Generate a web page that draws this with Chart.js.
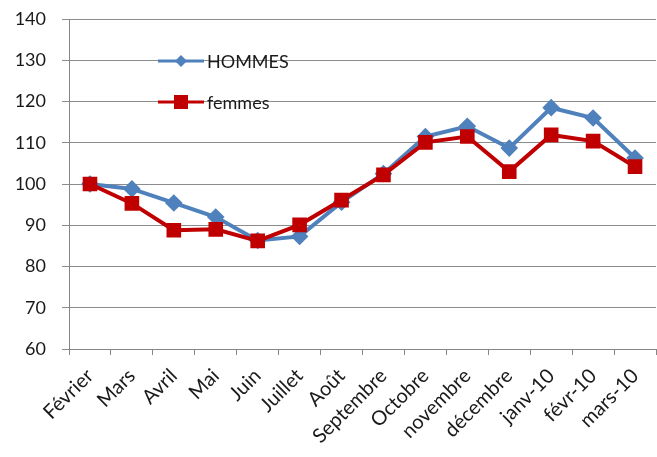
<!DOCTYPE html>
<html>
<head>
<meta charset="utf-8">
<script src="https://cdn.jsdelivr.net/npm/chart.js@4"></script>
<style>
html,body{margin:0;padding:0;background:#fff;}
#wrap{width:657px;height:457px;}
</style>
</head>
<body>
<div id="wrap"><canvas id="c" width="657" height="457"></canvas></div>
<script>
const categories = ["Février","Mars","Avril","Mai","Juin","Juillet","Août","Septembre","Octobre","novembre","décembre","janv-10","févr-10","mars-10"];
const hommes = [100, 98.8, 95.4, 92, 86.3, 87.3, 95.6, 102.5, 111.5, 114, 108.7, 118.5, 116, 106.3];
const femmes = [100, 95.3, 88.8, 89, 86.2, 90.1, 96.1, 102.2, 110.1, 111.5, 103, 111.9, 110.4, 104.2];
const yTicks = [60, 70, 80, 90, 100, 110, 120, 130, 140];

const BLUE = "#4f81bd", RED = "#c00000";
const FONT = "Lato, 'Liberation Sans', sans-serif";

const legendPlugin = {
  id: "inLegend",
  afterDatasetsDraw(chart) {
    const ctx = chart.ctx;
    const items = [
      {label: "HOMMES", color: BLUE, style: "rectRot", r: 6, y: 61},
      {label: "femmes", color: RED, style: "rect", r: 7, y: 102}
    ];
    ctx.save();
    items.forEach(it => {
      ctx.strokeStyle = it.color;
      ctx.lineWidth = 3;
      ctx.beginPath();
      ctx.moveTo(158, it.y);
      ctx.lineTo(204, it.y);
      ctx.stroke();
      ctx.fillStyle = it.color;
      if (it.style === "rect") {
        ctx.fillRect(181 - it.r, it.y - it.r, it.r * 2, it.r * 2);
      } else {
        ctx.beginPath();
        ctx.moveTo(181, it.y - it.r);
        ctx.lineTo(181 + it.r, it.y);
        ctx.lineTo(181, it.y + it.r);
        ctx.lineTo(181 - it.r, it.y);
        ctx.closePath();
        ctx.fill();
      }
      ctx.fillStyle = "#1a1a1a";
      ctx.font = "18px " + FONT;
      ctx.textBaseline = "middle";
      ctx.textAlign = "left";
      ctx.fillText(it.label, 207, it.y + 1);
    });
    ctx.restore();
  }
};

new Chart(document.getElementById("c"), {
  type: "line",
  data: {
    labels: categories,
    datasets: [
      {label: "HOMMES", data: hommes, borderColor: BLUE, backgroundColor: BLUE, borderWidth: 4, order: 1,
       pointStyle: "rectRot", pointRadius: 6, pointHoverRadius: 6, tension: 0},
      {label: "femmes", data: femmes, borderColor: RED, backgroundColor: RED, borderWidth: 4, order: 0,
       pointStyle: "rect", pointRadius: 7.5, pointHoverRadius: 7.5, tension: 0}
    ]
  },
  options: {
    responsive: false,
    animation: false,
    devicePixelRatio: 1,
    layout: {autoPadding: false, padding: {top: 19, right: 1, left: 0, bottom: 0}},
    plugins: {legend: {display: false}, tooltip: {enabled: false}},
    scales: {
      x: {
        offset: true,
        grid: {display: true, drawOnChartArea: false, drawTicks: true, tickLength: 6, color: "#868686", offset: true},
        border: {display: true, color: "#868686", width: 1},
        ticks: {minRotation: 45, maxRotation: 45, color: "#1a1a1a", font: {family: FONT, size: 20}, padding: 9, autoSkip: false},
        afterFit(s) { s.height = 108; s.paddingLeft = 0; s.paddingRight = 0; }
      },
      y: {
        min: 60, max: 140,
        afterBuildTicks(s) { s.ticks = yTicks.map(v => ({value: v})); },
        grid: {color: "#8c8c8c", lineWidth: 1, tickLength: 7, drawTicks: true},
        border: {display: true, color: "#868686", width: 1},
        ticks: {color: "#1a1a1a", font: {family: FONT, size: 18}, padding: 16},
        afterFit(s) { s.width = 69; s.paddingTop = 0; s.paddingBottom = 0; }
      }
    }
  },
  plugins: [legendPlugin]
});
</script>
</body>
</html>
